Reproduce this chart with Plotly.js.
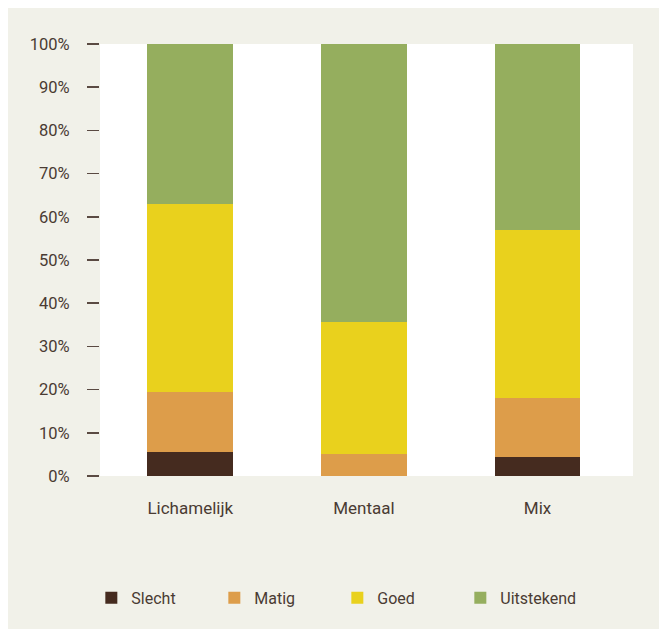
<!DOCTYPE html>
<html>
<head>
<meta charset="utf-8">
<script src="https://cdn.plot.ly/plotly-3.0.1.min.js"></script>
<style>
  html, body { margin: 0; padding: 0; background: #ffffff; }
  #chart { position: absolute; left: 8px; top: 8px; width: 651px; height: 621px; }
</style>
</head>
<body>
<div id="chart"></div>
<script>
const categories = ["Lichamelijk", "Mentaal", "Mix"];
const seriesNames = ["Slecht", "Matig", "Goed", "Uitstekend"];
const slecht = [5.6, 0, 4.4];
const matig = [13.9, 5.1, 13.6];
const goed = [43.4, 30.5, 38.9];
const uitstekend = [37.1, 64.4, 43.1];
const tickValues = [0, 10, 20, 30, 40, 50, 60, 70, 80, 90, 100];
const tickLabels = ["0%", "10%", "20%", "30%", "40%", "50%", "60%", "70%", "80%", "90%", "100%"];
const colors = ["#452b1f", "#dd9d4a", "#e9d11d", "#95ae5e"];

const values = [slecht, matig, goed, uitstekend];
const traces = seriesNames.map((name, i) => ({
  type: "bar",
  name: name,
  x: categories,
  y: values[i],
  marker: { color: colors[i], line: { width: 0 } },
  hoverinfo: "skip"
}));

const textColor = "#4a3b33";
const layout = {
  barmode: "stack",
  bargap: 0.506,
  width: 651,
  height: 621,
  margin: { l: 92, r: 26, t: 36, b: 153 },
  paper_bgcolor: "#f1f1e9",
  plot_bgcolor: "#ffffff",
  font: { family: "Roboto, 'DejaVu Sans', sans-serif", size: 16, color: textColor },
  showlegend: true,
  legend: {
    orientation: "h",
    xref: "container",
    yref: "container",
    x: 0.128,
    y: 0.05,
    xanchor: "left",
    yanchor: "middle",
    entrywidth: 78,
    entrywidthmode: "pixels",
    traceorder: "normal",
    bgcolor: "rgba(0,0,0,0)",
    font: { size: 16, color: textColor }
  },
  xaxis: {
    type: "category",
    range: [-0.52, 2.55],
    showgrid: false,
    zeroline: false,
    showline: false,
    ticks: "",
    ticklabelstandoff: 20,
    tickfont: { size: 17, color: textColor },
    fixedrange: true
  },
  yaxis: {
    range: [0, 100],
    tickvals: tickValues,
    ticktext: tickLabels,
    showgrid: false,
    zeroline: false,
    showline: false,
    ticks: "outside",
    ticklen: 12,
    tickwidth: 1.5,
    tickcolor: "#5a4a42",
    ticklabelstandoff: 14,
    tickfont: { size: 16.5, color: textColor },
    fixedrange: true
  }
};

Plotly.newPlot("chart", traces, layout, { displayModeBar: false, staticPlot: true });
</script>
</body>
</html>
